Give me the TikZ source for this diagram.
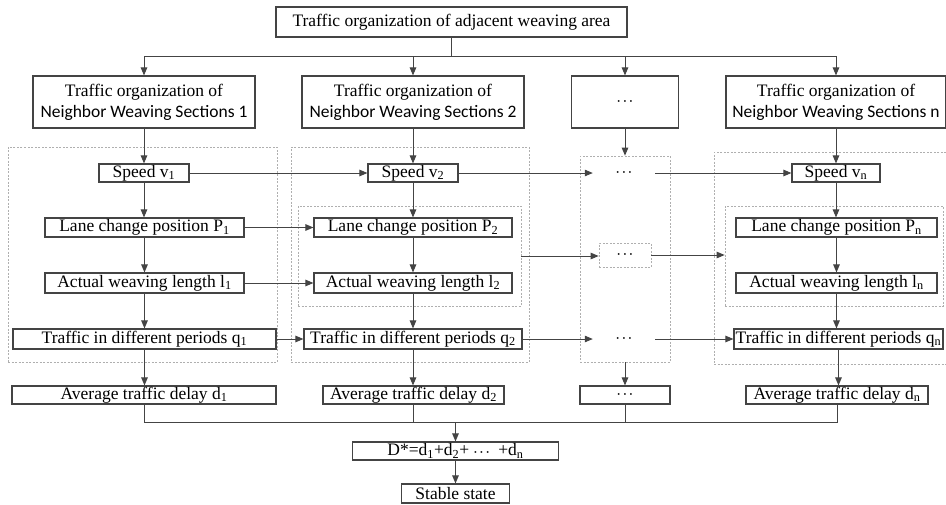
\documentclass[tikz,border=0pt]{standalone}
\usepackage{fontspec}
\setmainfont{Liberation Serif}
\newfontfamily\calibri{Carlito}
\usetikzlibrary{arrows.meta}
\definecolor{linegray}{RGB}{68,68,68}
\definecolor{dashgray}{RGB}{175,175,175}
\newcommand\mydots{{\fontsize{12}{12}\selectfont\boldmath$\cdots$}}
\tikzset{
  cell/.style={draw=linegray,line width=1.1pt,inner sep=0pt,align=center,font=\fontsize{17.5}{21}\selectfont},
  dotnode/.style={inner sep=0pt,font=\fontsize{17.5}{21}\selectfont},
  grp/.style={draw=dashgray,line width=0.7pt,dash pattern=on 2pt off 1.5pt,inner sep=0pt},
  arr/.style={draw=linegray,line width=1pt,-{Triangle[length=8pt,width=6.5pt]}},
  wire/.style={draw=linegray,line width=1pt},
}
\begin{document}
\begin{tikzpicture}[x=1pt,y=-1pt]
\useasboundingbox (0,0) rectangle (946,504);

\node[cell,minimum width=351,minimum height=30] (top) at (451.5,22) {Traffic organization of adjacent weaving area};

\node[cell,minimum width=222,minimum height=52] (sec1) at (144,102) {Traffic organization of\\{\calibri Neighbor Weaving Sections 1}};
\node[cell,minimum width=222,minimum height=52] (sec2) at (413,102) {Traffic organization of\\{\calibri Neighbor Weaving Sections 2}};
\node[cell,minimum width=107,minimum height=52] (sec3) at (625,102) {\mydots};
\node[cell,minimum width=220,minimum height=52] (secn) at (836,102) {Traffic organization of\\{\calibri Neighbor Weaving Sections n}};

\node[grp,minimum width=269,minimum height=215] (g1) at (142.5,254.5) {};
\node[grp,minimum width=238,minimum height=215] (g2) at (410,254.5) {};
\node[grp,minimum width=90,minimum height=206] (g3) at (625,259) {};
\node[grp,minimum width=234,minimum height=212] (gn) at (831,258) {};
\node[grp,minimum width=223,minimum height=100] (in2) at (409.5,256) {};
\node[grp,minimum width=218,minimum height=100] (inn) at (834,256) {};
\node[grp,minimum width=52,minimum height=24] (mid) at (625,255) {\mydots};

\node[cell,minimum width=90,minimum height=18] (v1) at (144,173) {Speed v\textsubscript{1}};
\node[cell,minimum width=90,minimum height=18] (v2) at (413,173) {Speed v\textsubscript{2}};
\node[dotnode,minimum width=62,minimum height=18] (v3) at (624,173) {\mydots};
\node[cell,minimum width=88,minimum height=18] (vn) at (836,173) {Speed v\textsubscript{n}};

\node[cell,minimum width=199,minimum height=19] (p1) at (144.5,227.5) {Lane change position P\textsubscript{1}};
\node[cell,minimum width=198,minimum height=19] (p2) at (413,227.5) {Lane change position P\textsubscript{2}};
\node[cell,minimum width=201,minimum height=19] (pn) at (836.5,227.5) {Lane change position P\textsubscript{n}};

\node[cell,minimum width=199,minimum height=20] (l1) at (144.5,283) {Actual weaving length l\textsubscript{1}};
\node[cell,minimum width=198,minimum height=20] (l2) at (413,283) {Actual weaving length l\textsubscript{2}};
\node[cell,minimum width=201,minimum height=20] (lN) at (836.5,283) {Actual weaving length l\textsubscript{n}};

\node[cell,minimum width=263,minimum height=20] (q1) at (144.5,339) {Traffic in different periods q\textsubscript{1}};
\node[cell,minimum width=218,minimum height=20] (q2) at (413,339) {Traffic in different periods q\textsubscript{2}};
\node[dotnode,minimum width=62,minimum height=20] (q3) at (624,339) {\mydots};
\node[cell,minimum width=209,minimum height=20] (qn) at (838.5,339) {Traffic in different periods q\textsubscript{n}};

\node[cell,minimum width=264,minimum height=18] (d1) at (144,395) {Average traffic delay d\textsubscript{1}};
\node[cell,minimum width=181,minimum height=18] (d2) at (413.5,395) {Average traffic delay d\textsubscript{2}};
\node[cell,minimum width=90,minimum height=18] (d3) at (625,395) {\mydots};
\node[cell,minimum width=182,minimum height=18] (dn) at (837,395) {Average traffic delay d\textsubscript{n}};

\node[cell,minimum width=206,minimum height=18] (dsum) at (455.5,451) {D*=d\textsubscript{1}+d\textsubscript{2}+ \mydots\ \ +d\textsubscript{n}};
\node[cell,minimum width=108,minimum height=19] (stable) at (455.5,493.5) {Stable state};

\draw[wire] (top.south) -- ++(0,19) coordinate (split);
\foreach \s in {sec1,sec2,sec3,secn}
  \draw[arr] (split) -| (\s.north);

\foreach \a/\b in {sec1/v1,v1/p1,p1/l1,l1/q1,q1/d1,sec2/v2,v2/p2,p2/l2,l2/q2,q2/d2,sec3/g3,g3/d3,secn/vn,vn/pn,pn/lN,lN/qn,qn/dn}
  \draw[arr] (\a.south) -- (\a.south |- \b.north);

\foreach \a/\b in {v1/v2,v2/v3,v3/vn,p1/p2,l1/l2,in2/mid,mid/inn,q1/q2,q2/q3,q3/qn}
  \draw[arr] (\a.east) -- (\a.east -| \b.west);

\coordinate (merge) at (455.5,422);
\foreach \d in {d1,d2,d3,dn}
  \draw[wire] (\d.south) |- (merge);
\draw[arr] (merge) -- (dsum.north);
\draw[arr] (dsum.south) -- (stable.north);
\end{tikzpicture}
\end{document}
